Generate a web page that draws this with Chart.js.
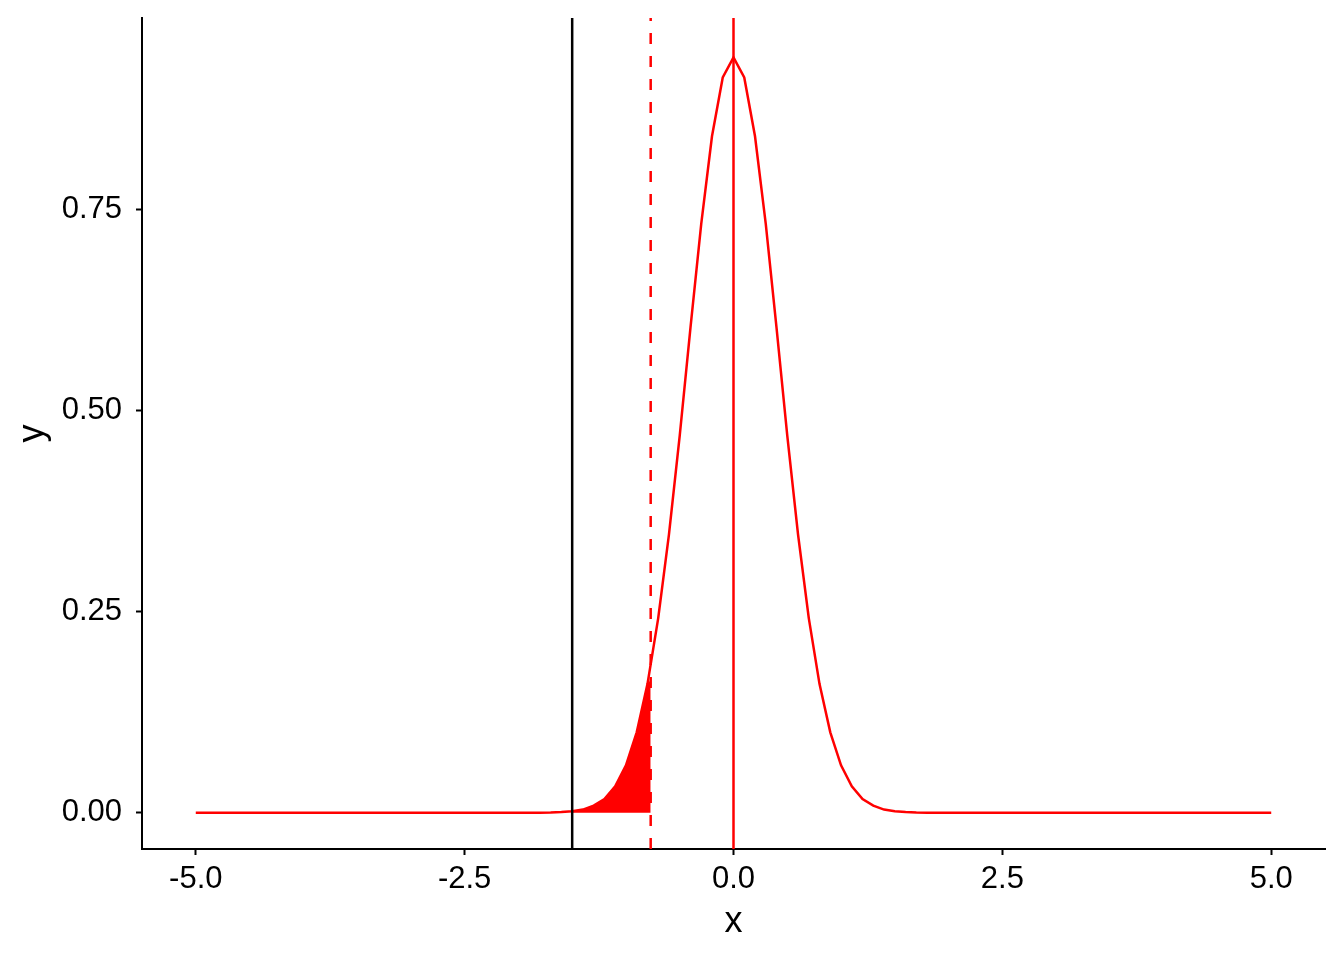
<!DOCTYPE html>
<html>
<head>
<meta charset="utf-8">
<script src="https://cdn.jsdelivr.net/npm/chart.js@4.4.1/dist/chart.umd.min.js"></script>
<style>
  body { margin: 0; background: #fff; }
  #wrap { width: 1344px; height: 960px; }
</style>
</head>
<body>
<div id="wrap"><canvas id="densChart" width="1344" height="960"></canvas></div>
<script>
// density curve (flat zero outside -1.8..1.8)
const xs = [-5, -1.8, -1.7, -1.6, -1.5, -1.4, -1.3, -1.2, -1.1, -1.0, -0.9, -0.8, -0.7, -0.6, -0.5, -0.4, -0.3, -0.2, -0.1,
            0, 0.1, 0.2, 0.3, 0.4, 0.5, 0.6, 0.7, 0.8, 0.9, 1.0, 1.1, 1.2, 1.3, 1.4, 1.5, 1.6, 1.7, 1.8, 5];
const dens = [0, 0.0001, 0.0003, 0.001, 0.002, 0.004, 0.009, 0.017, 0.033, 0.059, 0.100, 0.160, 0.242, 0.346, 0.469, 0.603, 0.732, 0.841, 0.914,
              0.939, 0.914, 0.841, 0.732, 0.603, 0.469, 0.346, 0.242, 0.160, 0.100, 0.059, 0.033, 0.017, 0.009, 0.004, 0.002, 0.001, 0.0003, 0.0001, 0];

// shaded tail between the black line and the dashed cutoff
const shadeX = [-1.5, -1.4, -1.3, -1.2, -1.1, -1.0, -0.9, -0.8, -0.77];
const shadeY = [0.002, 0.004, 0.009, 0.017, 0.033, 0.059, 0.100, 0.160, 0.165];

// vertical reference lines
const blackLineX = -1.5;
const dashLineX = -0.77;
const redLineX = 0;

const xTicks = [-5, -2.5, 0, 2.5, 5];
const yTicks = [0, 0.25, 0.5, 0.75];
const xLim = [-5.5, 5.5];
const yLim = [-0.045, 0.988];

function pts(a, b) {
  return a.map((x, i) => ({ x: x, y: b[i] }));
}
function vline(x) {
  return [{ x: x, y: yLim[0] }, { x: x, y: yLim[1] }];
}

const tickFont = { family: 'Liberation Sans, Arial, sans-serif', size: 31 };
const titleFont = { family: 'Liberation Sans, Arial, sans-serif', size: 36, lineHeight: 1.2 };

const ctx = document.getElementById('densChart').getContext('2d');

const densChart = new Chart(ctx, {
  type: 'scatter',
  data: {
    datasets: [
      {
        label: 'black',
        data: vline(blackLineX),
        showLine: true,
        borderColor: '#000',
        borderWidth: 2.5,
        pointRadius: 0,
        order: 1
      },
      {
        label: 'dashed',
        data: vline(dashLineX),
        showLine: true,
        borderColor: '#ff0000',
        borderWidth: 2.5,
        borderDash: [11, 12],
        pointRadius: 0,
        order: 1
      },
      {
        label: 'mean',
        data: vline(redLineX),
        showLine: true,
        borderColor: '#ff0000',
        borderWidth: 2.5,
        pointRadius: 0,
        order: 1
      },
      {
        label: 'shade',
        data: pts(shadeX, shadeY),
        showLine: true,
        borderWidth: 0,
        borderColor: 'rgba(0,0,0,0)',
        backgroundColor: '#ff0000',
        fill: 'origin',
        pointRadius: 0,
        order: 2
      },
      {
        label: 'density',
        data: pts(xs, dens),
        showLine: true,
        borderColor: '#ff0000',
        borderWidth: 2.5,
        pointRadius: 0,
        order: 3
      }
    ]
  },
  options: {
    responsive: false,
    animation: false,
    devicePixelRatio: 1,
    layout: { padding: { top: 18, right: 19, left: 0, bottom: 0 } },
    plugins: {
      legend: { display: false },
      tooltip: { enabled: false }
    },
    scales: {
      x: {
        type: 'linear',
        min: xLim[0],
        max: xLim[1],
        afterBuildTicks: (axis) => { axis.ticks = xTicks.map(v => ({ value: v })); },
        afterFit: (axis) => {
          axis.height = 111;
          axis.paddingLeft = 0;
          axis.paddingRight = 0;
        },
        ticks: {
          color: '#000',
          font: tickFont,
          padding: 6,
          maxRotation: 0,
          callback: (v) => v.toFixed(1)
        },
        grid: { drawOnChartArea: false, drawTicks: true, tickLength: 6, tickColor: '#000', tickWidth: 2 },
        border: { display: true, color: '#000', width: 2 },
        title: { display: true, text: 'x', color: '#000', font: titleFont, padding: { top: 0, bottom: 16 } }
      },
      y: {
        type: 'linear',
        min: yLim[0],
        max: yLim[1],
        afterBuildTicks: (axis) => { axis.ticks = yTicks.map(v => ({ value: v })); },
        afterFit: (axis) => {
          axis.width = 142;
          axis.paddingTop = 0;
          axis.paddingBottom = 0;
        },
        ticks: {
          color: '#000',
          font: tickFont,
          padding: 14,
          callback: (v) => v.toFixed(2)
        },
        grid: { drawOnChartArea: false, drawTicks: true, tickLength: 6, tickColor: '#000', tickWidth: 2 },
        border: { display: true, color: '#000', width: 2 },
        title: { display: true, text: 'y', color: '#000', font: titleFont, padding: { top: 11, bottom: 0 } }
      }
    }
  }
});
</script>
</body>
</html>
